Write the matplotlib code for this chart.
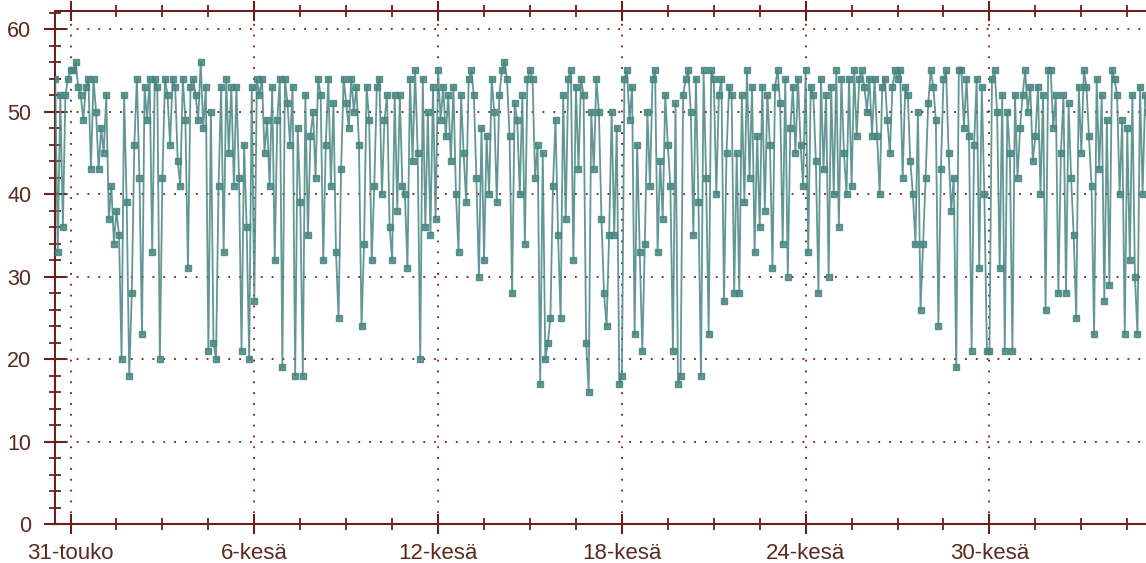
import matplotlib
matplotlib.use("Agg")
import matplotlib.pyplot as plt
import matplotlib.dates as mdates
from matplotlib.ticker import MultipleLocator, FixedLocator
import numpy as np
import pandas as pd

# readings every 2 hours, split into blocks by start time
start_times = ["2018-05-30 12:00", "2018-06-04 00:00", "2018-06-08 10:00", "2018-06-12 22:00",
               "2018-06-17 08:00", "2018-06-21 18:00", "2018-06-26 06:00", "2018-06-30 16:00"]

block1 = [54, 33, 52, 36, 52, 54, 55, 55, 56, 53, 52, 49, 53, 54, 43, 54, 50, 43, 48, 45,
          52, 37, 41, 34, 38, 35, 20, 52, 39, 18, 28, 46, 54, 42, 23, 53, 49, 54, 33, 54,
          53, 20, 42, 54, 52, 46, 54, 53, 44, 41, 54, 49, 31, 53]
block2 = [54, 52, 49, 56, 48, 53, 21, 50, 22, 20, 41, 53, 33, 54, 45, 53, 41, 53, 42, 21,
          46, 36, 20, 53, 27, 54, 52, 54, 45, 49, 41, 53, 32, 49, 54, 19, 54, 51, 46, 53,
          18, 48, 39, 18, 52, 35, 47, 50, 42, 54, 52, 32, 46]
block3 = [54, 41, 51, 33, 25, 43, 54, 51, 48, 54, 50, 53, 46, 24, 34, 53, 49, 32, 41, 53,
          54, 40, 49, 52, 36, 32, 52, 38, 52, 41, 40, 31, 54, 44, 55, 45, 20, 54, 36, 50,
          35, 53, 37, 55, 49, 53, 47, 52, 44, 53, 40, 33, 52, 45]
block4 = [39, 54, 55, 52, 42, 30, 48, 32, 47, 40, 54, 50, 39, 52, 55, 56, 54, 47, 28, 51,
          49, 40, 52, 34, 54, 55, 54, 42, 46, 17, 45, 20, 22, 25, 41, 49, 35, 25, 52, 37,
          54, 55, 32, 53, 43, 54, 52, 22, 16, 50, 43, 54, 50]
block5 = [37, 28, 24, 35, 50, 35, 48, 17, 18, 54, 55, 49, 53, 23, 46, 33, 21, 34, 50, 41,
          54, 55, 33, 44, 37, 52, 46, 41, 21, 51, 17, 18, 52, 54, 55, 50, 35, 54, 39, 18,
          55, 42, 23, 55, 54, 40, 52, 54, 27, 45, 53, 52, 28]
block6 = [45, 28, 52, 39, 55, 42, 53, 33, 47, 36, 53, 38, 52, 46, 31, 53, 55, 51, 34, 54,
          30, 48, 53, 45, 54, 46, 41, 55, 33, 53, 52, 44, 28, 54, 43, 52, 30, 53, 40, 55,
          36, 54, 45, 40, 54, 41, 55, 47, 54, 55, 53, 50, 54, 47]
block7 = [54, 47, 40, 53, 54, 49, 45, 53, 55, 54, 55, 42, 53, 52, 44, 40, 34, 50, 26, 34,
          42, 51, 55, 53, 49, 24, 43, 54, 55, 45, 38, 42, 19, 55, 55, 48, 54, 47, 21, 46,
          54, 31, 53, 40, 21, 21, 54, 55, 50, 31, 52, 21, 50]
block8 = [45, 21, 52, 42, 48, 52, 55, 50, 53, 44, 47, 53, 40, 52, 26, 55, 55, 48, 52, 28,
          45, 52, 28, 51, 42, 35, 25, 53, 45, 55, 53, 47, 41, 23, 54, 43, 52, 27, 49, 29,
          55, 54, 52, 40, 49, 23, 48, 32, 52, 30, 23, 53, 40, 52, 50]

blocks = [block1, block2, block3, block4, block5, block6, block7, block8]

tick_dates = ["2018-05-31", "2018-06-06", "2018-06-12", "2018-06-18", "2018-06-24", "2018-06-30"]
tick_labels = ["31-touko", "6-kesä", "12-kesä", "18-kesä", "24-kesä", "30-kesä"]

times = []
vals = []
for st, b in zip(start_times, blocks):
    times.extend(pd.date_range(st, periods=len(b), freq="2h"))
    vals.extend(b)

axis_col = "#6b1f1f"
text_col = "#5a2a1e"
line_col = "#478581"

plt.rcParams["font.family"] = ["Liberation Sans", "DejaVu Sans"]

fig = plt.figure(figsize=(11.46, 5.63), dpi=100)
ax = fig.add_axes([55 / 1146, 1 - 524 / 563, 1 - 55 / 1146, (524 - 11) / 563])

ax.plot(times, vals, color=line_col, lw=1.3, alpha=0.85, marker="s", markersize=3.8,
        markerfacecolor=line_col, markeredgecolor=line_col, zorder=3)

ax.set_xlim(pd.Timestamp("2018-05-30 11:50"), pd.Timestamp("2018-07-05 02:40"))
ax.set_ylim(0, 62.2)

xt = mdates.date2num(pd.to_datetime(tick_dates))
ax.xaxis.set_major_locator(FixedLocator(xt))
ax.set_xticklabels(tick_labels)
minor = np.arange(xt[0] - 1.5 * 20, xt[-1] + 1.5 * 20, 1.5)
ax.xaxis.set_minor_locator(FixedLocator(minor))

ax.yaxis.set_major_locator(MultipleLocator(10))
ax.yaxis.set_minor_locator(MultipleLocator(2))

for s in ["left", "bottom", "top"]:
    ax.spines[s].set_color(axis_col)
    ax.spines[s].set_linewidth(1.5)
ax.spines["right"].set_visible(False)

ax.tick_params(axis="x", which="both", direction="inout", top=True, colors=axis_col,
               labelcolor=text_col, labelsize=16)
ax.tick_params(axis="x", which="major", length=15, width=1.5, pad=6)
ax.tick_params(axis="x", which="minor", length=9, width=1.3)
ax.tick_params(axis="y", which="both", direction="inout", colors=axis_col,
               labelcolor=text_col, labelsize=15.5)
ax.tick_params(axis="y", which="major", length=16, width=1.5, pad=9)
ax.tick_params(axis="y", which="minor", length=8, width=1.3)

ax.grid(True, which="major", color=axis_col, linestyle=(0, (1, 5)), linewidth=1.3)
ax.set_axisbelow(True)

fig.savefig("out.png", dpi=100)
